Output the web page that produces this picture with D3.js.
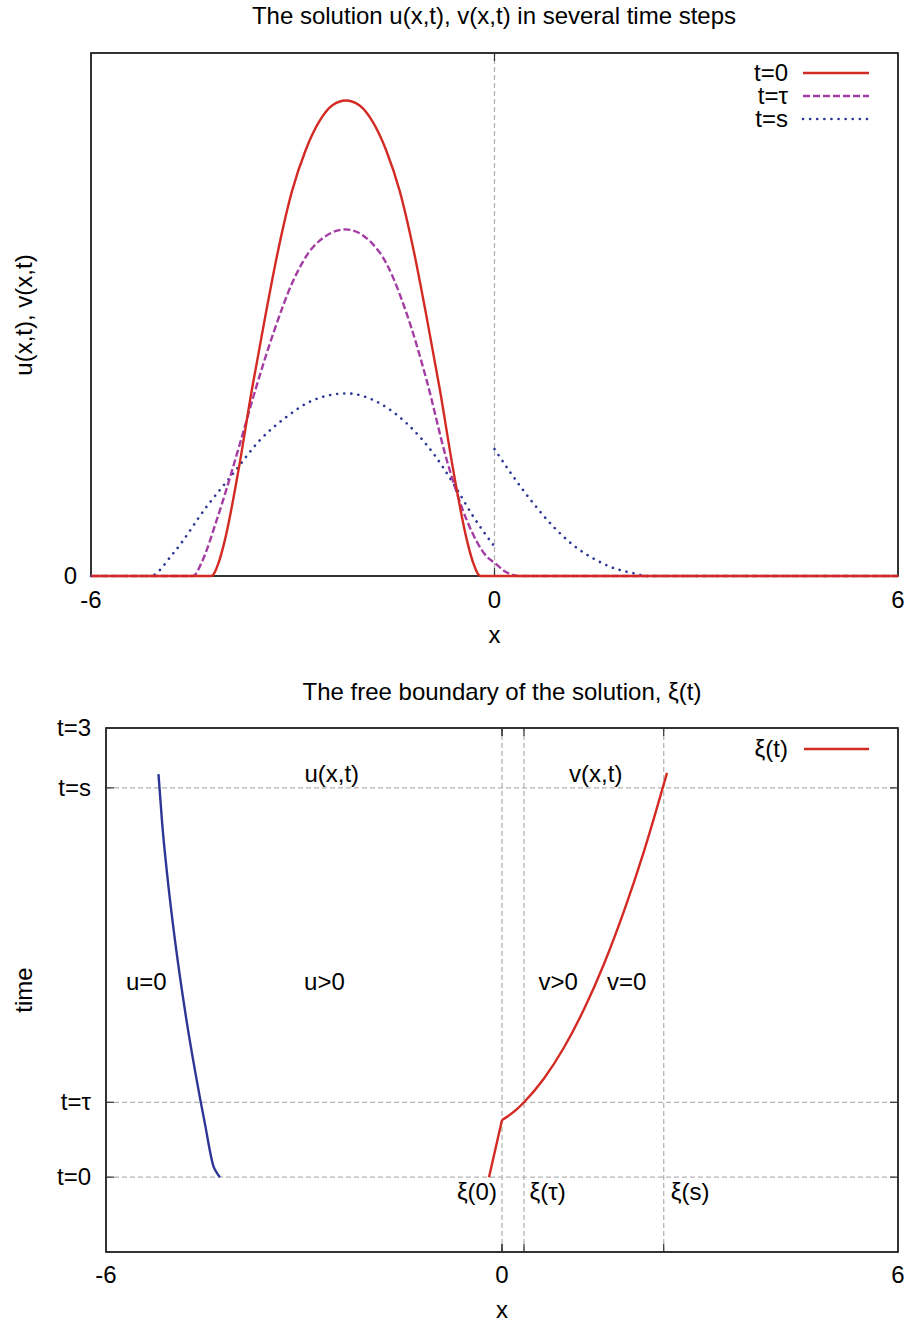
<!DOCTYPE html>
<html>
<head>
<meta charset="utf-8">
<script src="https://cdn.jsdelivr.net/npm/d3@7"></script>
<style>
  body { margin: 0; background: #fff; }
  text { font-family: "Liberation Sans", Arial, sans-serif; font-size: 24px; fill: #000; }
</style>
</head>
<body>
<svg id="chart" width="910" height="1322"></svg>
<script>
// ---- top panel: u(x,t), v(x,t) at three time steps ----
const topXTicks = [-6, 0, 6];
const topYTicks = [0];

// t = 0 (solid red)
const u0X = [-6, -4.21, -4.11, -4.01, -3.81, -3.61, -3.41, -3.21, -3.01, -2.81, -2.61, -2.41, -2.21,
             -2.01, -1.81, -1.61, -1.41, -1.21, -1.01, -0.81, -0.61, -0.41, -0.31, -0.21, 6];
const u0V = [0, 0, 0.025, 0.075, 0.22, 0.39, 0.545, 0.69, 0.81, 0.895, 0.955, 0.99, 1.0,
             0.99, 0.955, 0.895, 0.81, 0.69, 0.545, 0.39, 0.22, 0.075, 0.025, 0, 0];

// t = tau (dashed magenta)
const uTauX = [-6, -4.48, -4.35, -4.13, -3.784, -3.586, -3.29, -2.99, -2.69, -2.213, -1.70, -1.306, -1.01, -0.71, -0.414, -0.116, 0.007, 0.15, 0.28, 0.35, 6];
const uTauV = [0, 0, 0.03, 0.118, 0.279, 0.377, 0.51, 0.622, 0.693, 0.729, 0.679, 0.552, 0.412, 0.244, 0.118, 0.041, 0.027, 0.01, 0.002, 0, 0];

// t = s (dotted blue), u part left of 0 and v part right of 0
const uSX = [-6, -5.12, -4.776, -4.28, -3.884, -3.487, -3.09, -2.694, -2.198, -1.703, -1.306, -0.91, -0.613, -0.315, 0];
const uSV = [0, 0, 0.048, 0.146, 0.216, 0.286, 0.335, 0.37, 0.384, 0.363, 0.321, 0.258, 0.195, 0.125, 0.062];
const vSX = [0, 0.28, 0.577, 0.874, 1.17, 1.469, 1.767, 2.064, 2.27, 6];
const vSV = [0.267, 0.209, 0.153, 0.104, 0.065, 0.037, 0.017, 0.006, 0, 0];

const topLegend = ["t=0", "t=τ", "t=s"];

// ---- bottom panel: free boundary ----
const botXTicks = [-6, 0, 6];
const botYTicks = [3, 2.6, 0.5, 0];
const botYLabels = ["t=3", "t=s", "t=τ", "t=0"];
const gridT = [2.6, 0.5, 0];
const gridX = [0, 0.333, 2.45];

// left boundary (blue), ordered by x
const leftBX = [-5.205, -5.148, -5.074, -4.986, -4.885, -4.771, -4.642, -4.5, -4.367, -4.318, -4.273];
const leftBT = [2.692, 2.358, 2.024, 1.69, 1.356, 1.022, 0.688, 0.354, 0.067, 0.027, 0];

// xi(t) (red): straight piece then curved piece
const xiX1 = [-0.197, 0];
const xiT1 = [0, 0.381];
const xiX2 = [0, 0.1, 0.222, 0.333, 0.636, 0.939, 1.242, 1.545, 1.848, 2.152, 2.5];
const xiT2 = [0.381, 0.41, 0.452, 0.5, 0.659, 0.866, 1.121, 1.424, 1.777, 2.178, 2.70];

const regionText = ["u(x,t)", "v(x,t)", "u=0", "u>0", "v>0", "v=0", "ξ(0)", "ξ(τ)", "ξ(s)"];
const regionX = [-2.58, 1.42, -5.39, -2.69, 0.85, 1.89, -0.38, 0.69, 2.85];
const regionT = [2.64, 2.64, 1.25, 1.25, 1.25, 1.25, -0.155, -0.155, -0.155];

const RED = "#d42a24", MAG = "#a33ca3", BLUE = "#2d3696", GRID = "#b4b4b4";
const DOTS = "0.1,7";

let svg = d3.select("#chart");

function zip(xs, ys) { return xs.map((x, i) => [x, ys[i]]); }

function frame(g, x, y, xTicks, yTicks) {
    let [x0, x1] = x.range(), [y0, y1] = y.range();
    g.append("rect")
        .attr("x", x0).attr("y", y1)
        .attr("width", x1 - x0).attr("height", y0 - y1)
        .attr("fill", "none").attr("stroke", "#000").attr("stroke-width", 1.6);
    // inward ticks, mirrored like gnuplot
    xTicks.forEach(v => {
        g.append("line").attr("x1", x(v)).attr("x2", x(v)).attr("y1", y0).attr("y2", y0 - 8).attr("stroke", "#333").attr("stroke-width", 1.2);
        g.append("line").attr("x1", x(v)).attr("x2", x(v)).attr("y1", y1).attr("y2", y1 + 8).attr("stroke", "#333").attr("stroke-width", 1.2);
    });
    yTicks.forEach(v => {
        g.append("line").attr("x1", x0).attr("x2", x0 + 8).attr("y1", y(v)).attr("y2", y(v)).attr("stroke", "#333").attr("stroke-width", 1.2);
        g.append("line").attr("x1", x1).attr("x2", x1 - 8).attr("y1", y(v)).attr("y2", y(v)).attr("stroke", "#333").attr("stroke-width", 1.2);
    });
}

// ================= top panel =================
let xTop = d3.scaleLinear().domain([-6, 6]).range([91, 898]);
let yTop = d3.scaleLinear().domain([0, 1.1]).range([576, 53]);
let gTop = svg.append("g");

gTop.append("text").attr("x", 494).attr("y", 24).attr("text-anchor", "middle")
    .text("The solution u(x,t), v(x,t) in several time steps");

// dashed zero line
gTop.append("line")
    .attr("x1", xTop(0)).attr("x2", xTop(0)).attr("y1", yTop(0)).attr("y2", yTop(1.1))
    .attr("stroke", GRID).attr("stroke-width", 1.3).attr("stroke-dasharray", "5,3");

frame(gTop, xTop, yTop, topXTicks, topYTicks);

topXTicks.forEach(v => {
    gTop.append("text").attr("x", xTop(v)).attr("y", 608).attr("text-anchor", "middle").text(v);
});
topYTicks.forEach(v => {
    gTop.append("text").attr("x", 77).attr("y", yTop(v) + 8).attr("text-anchor", "end").text(v);
});
gTop.append("text").attr("x", xTop(0)).attr("y", 643).attr("text-anchor", "middle").text("x");
gTop.append("text").attr("transform", "translate(32,315) rotate(-90)").attr("text-anchor", "middle")
    .text("u(x,t), v(x,t)");

let lineTop = d3.line().x(d => xTop(d[0])).y(d => yTop(d[1])).curve(d3.curveMonotoneX);

let topSeries = [
    { pts: [zip(uSX, uSV), zip(vSX, vSV)], color: BLUE, dash: DOTS, w: 2.6, cap: "round" },
    { pts: [zip(uTauX, uTauV)], color: MAG, dash: "7,3", w: 2.4, cap: "butt" },
    { pts: [zip(u0X, u0V)], color: RED, dash: null, w: 2.4, cap: "butt" }
];
topSeries.forEach(s => {
    s.pts.forEach(p => {
        gTop.append("path").attr("d", lineTop(p))
            .attr("fill", "none").attr("stroke", s.color).attr("stroke-width", s.w)
            .attr("stroke-dasharray", s.dash).attr("stroke-linecap", s.cap);
    });
});

// legend
let legStyle = [
    { color: RED, dash: null, w: 2.4, cap: "butt" },
    { color: MAG, dash: "7,3", w: 2.4, cap: "butt" },
    { color: BLUE, dash: DOTS, w: 2.6, cap: "round" }
];
topLegend.forEach((t, i) => {
    let yy = 73 + i * 23;
    gTop.append("text").attr("x", 788).attr("y", yy + 8).attr("text-anchor", "end").text(t);
    gTop.append("line").attr("x1", 803).attr("x2", 869).attr("y1", yy).attr("y2", yy)
        .attr("stroke", legStyle[i].color).attr("stroke-width", legStyle[i].w)
        .attr("stroke-dasharray", legStyle[i].dash).attr("stroke-linecap", legStyle[i].cap);
});

// ================= bottom panel =================
let xBot = d3.scaleLinear().domain([-6, 6]).range([106, 898]);
let yBot = d3.scaleLinear().domain([-0.5, 3]).range([1252, 728]);
let gBot = svg.append("g");

gBot.append("text").attr("x", 502).attr("y", 700).attr("text-anchor", "middle")
    .text("The free boundary of the solution, ξ(t)");

gridT.forEach(v => {
    gBot.append("line").attr("x1", xBot(-6)).attr("x2", xBot(6)).attr("y1", yBot(v)).attr("y2", yBot(v))
        .attr("stroke", GRID).attr("stroke-width", 1.3).attr("stroke-dasharray", "5,3");
});
gridX.forEach(v => {
    gBot.append("line").attr("x1", xBot(v)).attr("x2", xBot(v)).attr("y1", yBot(-0.5)).attr("y2", yBot(3))
        .attr("stroke", GRID).attr("stroke-width", 1.3).attr("stroke-dasharray", "5,3");
});

frame(gBot, xBot, yBot, botXTicks.concat(gridX), botYTicks);

botXTicks.forEach(v => {
    gBot.append("text").attr("x", xBot(v)).attr("y", 1283).attr("text-anchor", "middle").text(v);
});
botYTicks.forEach((v, i) => {
    gBot.append("text").attr("x", 91).attr("y", yBot(v) + 8).attr("text-anchor", "end").text(botYLabels[i]);
});
gBot.append("text").attr("x", xBot(0)).attr("y", 1318).attr("text-anchor", "middle").text("x");
gBot.append("text").attr("transform", "translate(32,990) rotate(-90)").attr("text-anchor", "middle").text("time");

regionText.forEach((t, i) => {
    gBot.append("text").attr("x", xBot(regionX[i])).attr("y", yBot(regionT[i]))
        .attr("text-anchor", "middle").text(t);
});

let lineBot = d3.line().x(d => xBot(d[0])).y(d => yBot(d[1]));

gBot.append("path").attr("d", lineBot.curve(d3.curveMonotoneX)(zip(leftBX, leftBT)))
    .attr("fill", "none").attr("stroke", BLUE).attr("stroke-width", 2.4);
gBot.append("path").attr("d", lineBot.curve(d3.curveLinear)(zip(xiX1, xiT1)))
    .attr("fill", "none").attr("stroke", RED).attr("stroke-width", 2.4);
gBot.append("path").attr("d", lineBot.curve(d3.curveMonotoneX)(zip(xiX2, xiT2)))
    .attr("fill", "none").attr("stroke", RED).attr("stroke-width", 2.4);

// legend
gBot.append("text").attr("x", 788).attr("y", 757).attr("text-anchor", "end").text("ξ(t)");
gBot.append("line").attr("x1", 804).attr("x2", 869).attr("y1", 749).attr("y2", 749)
    .attr("stroke", RED).attr("stroke-width", 2.4);
</script>
</body>
</html>
